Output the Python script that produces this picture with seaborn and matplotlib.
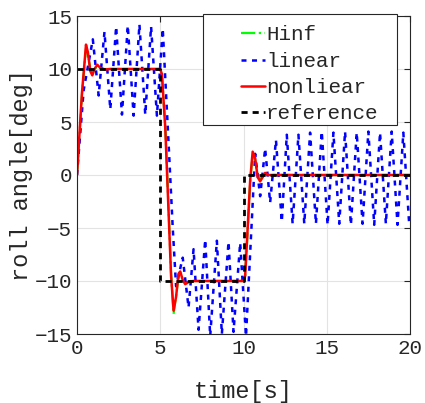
import seaborn as sns
import matplotlib.pyplot as plt
from matplotlib.patches import Rectangle
import numpy as np

# reference step command
ref_t = [0, 5, 5, 10, 10, 20]
ref_y = [10, 10, -10, -10, 0, 0]

# nonlinear controller response
nl_t = [0, 0.18, 0.3, 0.42, 0.54, 0.65, 0.8, 0.92, 1.05, 1.22, 1.4, 1.7, 2.0,
        5.0, 5.1, 5.3, 5.5, 5.65, 5.8, 5.95, 6.1, 6.2, 6.35, 6.5, 6.7, 7.0,
        10.0, 10.1, 10.25, 10.4, 10.55, 10.7, 10.85, 11.0, 11.15, 11.3, 11.5, 11.8, 20]
nl_y = [0, 4.7, 7.8, 10.0, 12.3, 11.6, 9.8, 9.4, 10.0, 10.4, 10.1, 9.95, 10,
        10, 9.5, 4.5, -3.5, -9.5, -12.8, -11.5, -9.3, -9.1, -9.9, -10.3, -10.1, -10,
        -10, -9.5, -5.0, -0.5, 2.2, 1.6, -0.2, -0.6, -0.2, 0.2, 0.0, 0.0, 0]

# Hinf controller response
hinf_t = [0, 0.18, 0.3, 0.42, 0.55, 0.66, 0.8, 0.95, 1.1, 1.3, 1.6, 2.0,
          5.0, 5.1, 5.3, 5.5, 5.65, 5.8, 5.95, 6.1, 6.3, 6.5, 6.8, 7.0,
          10.0, 10.1, 10.25, 10.4, 10.55, 10.7, 10.85, 11.0, 11.2, 11.5, 20]
hinf_y = [0, 4.5, 7.6, 9.8, 12.0, 11.4, 9.9, 9.6, 10.1, 10.2, 10.0, 10,
          10, 9.5, 4.7, -3.2, -9.3, -13.1, -11.4, -9.6, -10.2, -10.2, -10.0, -10,
          -10, -9.6, -5.2, -0.7, 2.0, 1.3, -0.1, -0.4, 0.1, 0.0, 0]

# linear controller response (peaks / troughs)
lin_t = [0, 0.4, 0.95, 1.3, 1.65, 2.0, 2.35, 2.7, 3.05, 3.4, 3.75, 4.1, 4.45, 4.8, 5.15,
         5.5, 5.75, 5.95, 6.35, 6.7, 7.0, 7.3, 7.7, 8.0, 8.4, 8.7, 9.1, 9.4, 9.8, 10.15,
         10.7, 11.0, 11.3, 11.6, 11.95, 12.3, 12.6, 12.95, 13.3, 13.65, 14.0, 14.35,
         14.7, 15.05, 15.4, 15.75, 16.1, 16.45, 16.8, 17.15, 17.5, 17.85, 18.2, 18.55,
         18.9, 19.25, 19.6, 19.95, 20]
lin_y = [0, 8.0, 12.8, 7.5, 13.5, 6.2, 14.0, 5.7, 14.1, 5.6, 14.2, 5.7, 14.0, 5.6, 13.8,
         3.0, -5.0, -10.5, -7.8, -12.5, -7.0, -14.6, -6.1, -15.2, -6.2, -15.0, -6.3, -14.8, -6.4, -15.2,
         2.0, -2.0, 2.5, -2.6, 3.3, -4.4, 3.8, -4.6, 3.8, -4.6, 4.0, -4.6,
         4.1, -4.7, 4.0, -4.6, 4.1, -4.7, 4.0, -4.6, 4.1, -4.7, 4.0, -4.6,
         4.1, -4.7, 4.0, -4.6, -4.0]

sns.set_style("whitegrid")
plt.rcParams['font.family'] = ['Liberation Mono', 'DejaVu Sans Mono']

fig = plt.figure(figsize=(4.25, 4.03), dpi=100)
ax = fig.add_axes([77 / 425, 1 - 334 / 403, 333 / 425, 318 / 403])

sns.lineplot(x=hinf_t, y=hinf_y, ax=ax, estimator=None, sort=False,
             color='#00ff00', linestyle='-.', linewidth=1.6, label='Hinf')
sns.lineplot(x=lin_t, y=lin_y, ax=ax, estimator=None, sort=False,
             color='#0000ff', linewidth=1.8, label='linear')
ax.lines[-1].set_linestyle((0, (2.0, 2.2)))
sns.lineplot(x=nl_t, y=nl_y, ax=ax, estimator=None, sort=False,
             color='#ff0000', linewidth=1.8, label='nonliear')
sns.lineplot(x=ref_t, y=ref_y, ax=ax, estimator=None, sort=False,
             color='black', linewidth=2.0, label='reference')
ax.lines[-1].set_linestyle((0, (2.2, 1.8)))

ax.set_xlim(0, 20)
ax.set_ylim(-15, 15)
ax.set_xticks([0, 5, 10, 15, 20])
ax.set_yticks([-15, -10, -5, 0, 5, 10, 15])
ax.grid(True, color='#e3e3e3', linewidth=0.8)
ax.tick_params(direction='in', length=4, top=True, right=True,
               labelsize=15, colors='#262626', width=0.8)
for s in ax.spines.values():
    s.set_color('#262626')
    s.set_linewidth(0.8)
ax.set_xlabel('time[s]', fontsize=17, color='#262626', labelpad=16)
ax.set_ylabel('roll angle[deg]', fontsize=17, color='#262626', labelpad=1)

# legend box (MATLAB style, with empty space left of the handles)
box = Rectangle((203 / 425, 1 - 125 / 403), 194 / 425, 111 / 403,
                transform=fig.transFigure, facecolor='white',
                edgecolor='#262626', linewidth=0.8, zorder=4, clip_on=False)
ax.add_patch(box)
leg = ax.legend(loc='upper left', bbox_to_anchor=(241 / 425, 1 - 25.5 / 403),
                bbox_transform=fig.transFigure, frameon=False, fontsize=15,
                handlelength=1.15, handletextpad=0.05, labelspacing=0.35,
                borderpad=0, borderaxespad=0)
leg.set_zorder(6)

fig.savefig('out.png', dpi=100)
